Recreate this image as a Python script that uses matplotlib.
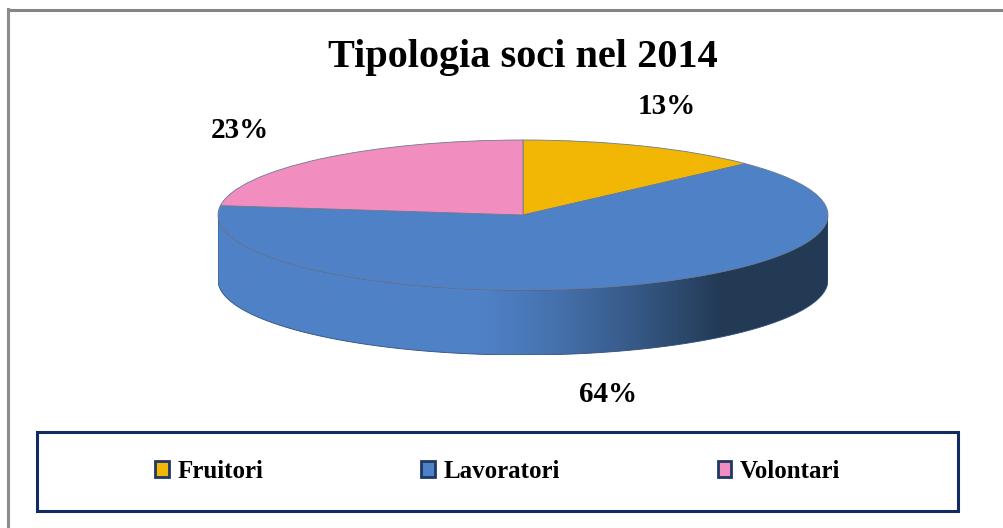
import numpy as np
import matplotlib.pyplot as plt
from matplotlib.patches import Patch, Polygon, Rectangle
from matplotlib.lines import Line2D
from matplotlib.colors import LinearSegmentedColormap

# data
labels = ['Fruitori', 'Lavoratori', 'Volontari']
values = [13, 64, 23]
colors = ['#F2B705', '#4F81C6', '#F28DBF']
side_dark = ['#6E5200', '#233A55', '#6E3552']

W, H = 1004, 528
SERIF = 'Liberation Serif'


def fx(x):
    return x / W


def fy(y):
    return 1 - y / H


fig = plt.figure(figsize=(W / 100, H / 100), dpi=100)
fig.patch.set_facecolor('white')

# pie: unit circle squashed into an ellipse, with a side band of some depth
depth = 65 / 75
ax = fig.add_axes([fx(218), fy(355), 610 / W, 215 / H])

wedges, _ = ax.pie(values, colors=colors, startangle=90, counterclock=False,
                   radius=1, wedgeprops=dict(edgecolor='#6A7A94', linewidth=0.6))
for w in wedges:
    w.set_clip_on(False)
    w.set_zorder(3)

# side of the pie (front half only)
total = float(sum(values))
t1 = 90.0
xs_img = np.linspace(-1, 1, 400)
shade = np.clip((xs_img + 0.15) / 0.8, 0, 1) ** 1.3
for v, c, dk in zip(values, colors, side_dark):
    t2 = t1 - 360 * v / total
    for shift in (-360, 0, 360):
        lo = max(t2 + shift, -180)
        hi = min(t1 + shift, 0)
        if lo >= hi:
            continue
        t = np.radians(np.linspace(lo, hi, 200))
        top = np.column_stack([np.cos(t), np.sin(t)])
        bot = np.column_stack([np.cos(t), np.sin(t) - depth])[::-1]
        poly = Polygon(np.vstack([top, bot]), closed=True, facecolor='none',
                       edgecolor='#2F4F7A', linewidth=0.6, zorder=2)
        ax.add_patch(poly)
        cm = LinearSegmentedColormap.from_list('side', [c, dk])
        im = ax.imshow(shade[None, :], extent=(-1, 1, -1 - depth, 0), cmap=cm,
                       vmin=0, vmax=1, aspect='auto', interpolation='bilinear',
                       zorder=1)
        im.set_clip_path(poly)
    t1 = t2

ax.set_aspect('auto')
ax.set_xlim(-1, 1)
ax.set_ylim(-1 - depth, 1)
ax.axis('off')

# texts
fig.text(fx(523), fy(57), 'Tipologia soci nel 2014', ha='center', va='center',
         family=SERIF, weight='bold', size=29)
pct = ['%d%%' % v for v in values]
fig.text(fx(667), fy(107), pct[0], ha='center', va='center',
         family=SERIF, weight='bold', size=21)
fig.text(fx(608), fy(395), pct[1], ha='center', va='center',
         family=SERIF, weight='bold', size=21)
fig.text(fx(240), fy(131), pct[2], ha='center', va='center',
         family=SERIF, weight='bold', size=21)

# legend
handles = [Patch(facecolor=c, edgecolor='#1F3864', linewidth=2) for c in colors]
fig.legend(handles, labels, loc='center', bbox_to_anchor=(fx(498), fy(471)),
           ncol=3, frameon=False,
           prop=dict(family=SERIF, weight='bold', size=18),
           handlelength=0.55, handleheight=0.6, handletextpad=0.35,
           columnspacing=6.3)
fig.add_artist(Rectangle((fx(37), fy(511)), 921 / W, 79 / H,
                         transform=fig.transFigure, fill=False,
                         edgecolor='#122B63', linewidth=2.2))

# outer frame (only top and left visible)
fig.add_artist(Line2D([fx(8), 1.0], [fy(9.5), fy(9.5)], transform=fig.transFigure,
                      color='#858585', linewidth=2.2))
fig.add_artist(Line2D([fx(8.5), fx(8.5)], [fy(8.5), 0.0], transform=fig.transFigure,
                      color='#8C8C8C', linewidth=2.2))

fig.savefig('out.png', dpi=100)
